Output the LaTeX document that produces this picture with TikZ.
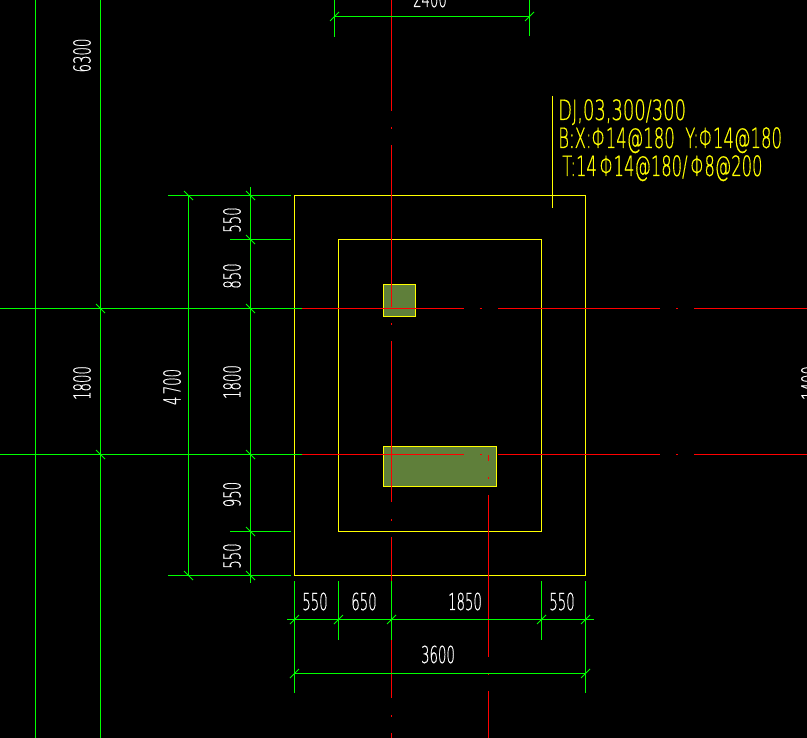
\documentclass[tikz,border=0pt]{standalone}
\usepackage{fontspec}
\setmainfont{DejaVu Sans ExtraLight}
\newfontfamily\cadfont[FakeBold=0.6]{DejaVu Sans ExtraLight}
\newcommand{\cadw}[1]{\scalebox{0.57}[1]{#1}}
\newcommand{\cady}[2]{\scalebox{#1}[1]{#2}}
\definecolor{cadgreen}{RGB}{0,255,0}
\definecolor{cadred}{RGB}{255,0,0}
\definecolor{cadyellow}{RGB}{255,255,0}
\definecolor{cadfill}{RGB}{95,127,58}
\tikzset{
  x=0.75pt,y=-0.75pt,
  gl/.style={draw=cadgreen,line width=0.95pt},
  rl/.style={draw=cadred,line width=0.95pt},
  yl/.style={draw=cadyellow,line width=0.95pt},
  column/.style={draw=cadyellow,fill=cadfill,line width=0.95pt},
  tickv/.style={draw=cadgreen,line width=0.7pt},
  dimtext/.style={text=white,inner sep=0pt,font=\cadfont\fontsize{17.5pt}{18pt}\selectfont},
  notetext/.style={text=cadyellow,inner sep=0pt,anchor=base west,font=\cadfont\fontsize{21pt}{22pt}\selectfont}
}
\begin{document}
\begin{tikzpicture}
\useasboundingbox (0,0) rectangle (807,738);
\fill[black] (0,0) rectangle (807,738);
\clip (0,0) rectangle (807,738);
% columns
\draw[column] (383.5,284.5) rectangle (415.5,316.5);
\draw[column] (383.5,446.5) rectangle (496.5,486.5);
% footing
\draw[yl] (294.5,195.5) rectangle (585.5,575.5);
\draw[yl] (338.5,239.5) rectangle (541.5,531.5);
\draw[yl] (552.5,96) -- (552.5,208);
% axes
\draw[rl] (302,308.5) -- (464,308.5) (479.5,308.5) -- (482,308.5) (498,308.5) -- (660,308.5) (676,308.5) -- (678,308.5) (694,308.5) -- (807,308.5);
\draw[rl] (302,454.5) -- (464,454.5) (480,454.5) -- (482,454.5) (498,454.5) -- (660,454.5) (676,454.5) -- (678,454.5) (694,454.5) -- (807,454.5);
\draw[rl] (391.5,0) -- (391.5,110.7) (391.5,127) -- (391.5,129) (391.5,145) -- (391.5,306.7) (391.5,323) -- (391.5,325) (391.5,341) -- (391.5,502) (391.5,519) -- (391.5,521) (391.5,537) -- (391.5,698) (391.5,715) -- (391.5,717) (391.5,733) -- (391.5,738);
\draw[rl] (488.5,455) -- (488.5,461) (488.5,477) -- (488.5,479) (488.5,495) -- (488.5,657) (488.5,673) -- (488.5,675) (488.5,691) -- (488.5,738);
% green dimension lines
\draw[gl] (35.5,0) -- (35.5,738);
\draw[gl] (100.5,0) -- (100.5,738);
\draw[gl] (0,308.5) -- (302,308.5);
\draw[gl] (0,454.5) -- (302,454.5);
\draw[gl] (188.5,195.5) -- (188.5,575.5);
\draw[gl] (250.5,187) -- (250.5,583);
\draw[gl] (168,195.5) -- (291,195.5);
\draw[gl] (230,239.5) -- (291,239.5);
\draw[gl] (230,531.5) -- (291,531.5);
\draw[gl] (168,575.5) -- (291,575.5);
\draw[gl] (287,619.5) -- (594,619.5);
\draw[gl] (294.5,673.5) -- (585.5,673.5);
\draw[gl] (294.5,581) -- (294.5,693);
\draw[gl] (338.5,581) -- (338.5,640);
\draw[gl] (391.5,581) -- (391.5,640);
\draw[gl] (541.5,581) -- (541.5,640);
\draw[gl] (585.5,581) -- (585.5,693);
\draw[gl] (334.5,0) -- (334.5,36.7);
\draw[gl] (529.5,0) -- (529.5,36);
\draw[gl] (334.5,16.5) -- (529.5,16.5);
% ticks
\foreach \px/\py in {188.5/195.5,188.5/575.5,250.5/195.5,250.5/239.5,250.5/308.5,250.5/454.5,250.5/531.5,250.5/575.5,100.5/308.5,100.5/454.5}
  \draw[tickv] (\px-4.5,\py-4.5) -- (\px+4.5,\py+4.5);
\foreach \px/\py in {294.5/619.5,338.5/619.5,391.5/619.5,541.5/619.5,585.5/619.5,294.5/673.5,585.5/673.5,334.5/16.5,529.5/16.5}
  \draw[tickv] (\px-4.5,\py+4.5) -- (\px+4.5,\py-4.5);
% vertical dimension texts
\node[dimtext,rotate=90] (t6300) at (82,55.5) {\cadw{6300}};
\node[dimtext,rotate=90] (t1800a) at (82,383) {\cadw{1800}};
\node[dimtext,rotate=90] (t4700) at (172,387) {\cadw{4\hspace{3pt}700}};
\node[dimtext,rotate=90] (t550a) at (232,220) {\cadw{550}};
\node[dimtext,rotate=90] (t850) at (232,276) {\cadw{850}};
\node[dimtext,rotate=90] (t1800b) at (232,382) {\cadw{1800}};
\node[dimtext,rotate=90] (t950) at (232,494.5) {\cadw{950}};
\node[dimtext,rotate=90] (t550b) at (232,556) {\cadw{550}};
\node[dimtext,rotate=90] (t1400) at (810,383) {\cadw{1400}};
% horizontal dimension texts
\node[dimtext] (t2400) at (430,-1.5) {\cadw{2400}};
\node[dimtext] (t550c) at (315,601.5) {\cadw{550}};
\node[dimtext] (t650) at (364,601.5) {\cadw{650}};
\node[dimtext] (t1850) at (465,601.5) {\cadw{1850}};
\node[dimtext] (t550d) at (562,601.5) {\cadw{550}};
\node[dimtext] (t3600) at (438,654.5) {\cadw{3600}};
% note
\node[notetext] (n1) at (558,120) {\cady{0.64}{DJ,03,300/300}};
\node[notetext] (n2) at (558,148) {\cady{0.59}{B:X:Φ14@180\ \ Y:Φ14@180}};
\node[notetext] (n3) at (562,176) {\cady{0.585}{T:14\,Φ14@180/\,Φ8@200}};
\end{tikzpicture}
\end{document}
